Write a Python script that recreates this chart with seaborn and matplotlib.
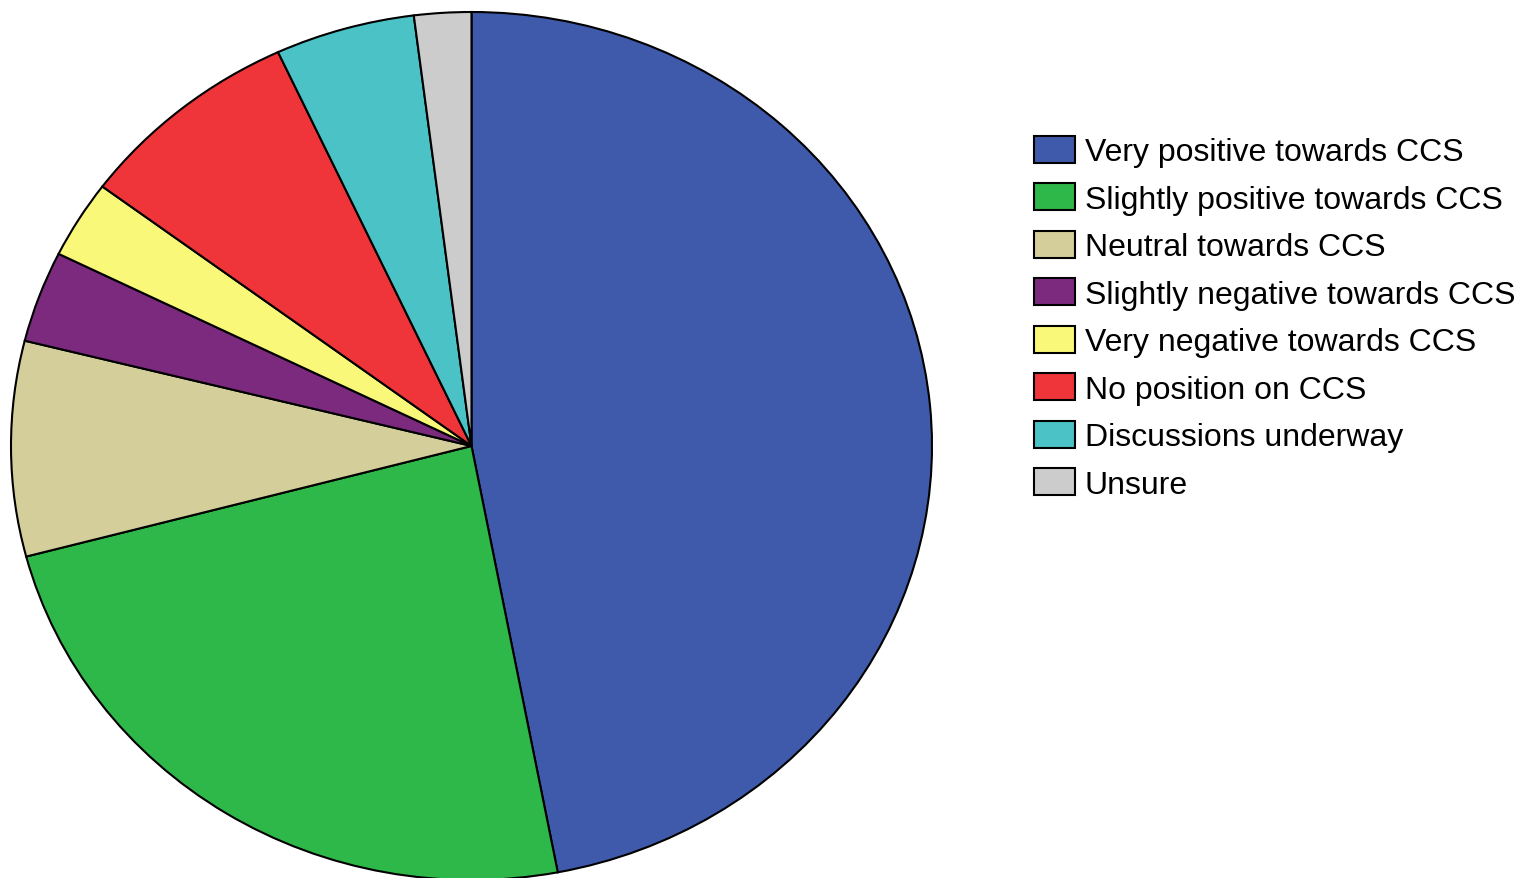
import numpy as np
import pandas as pd
import matplotlib.pyplot as plt
import seaborn as sns

sns.set_theme(style='white')
plt.rcParams['font.family'] = ['Liberation Sans', 'DejaVu Sans']
plt.rcParams['text.color'] = 'black'

# Position on CCS (share of respondents, %)
labels = ['Very positive towards CCS', 'Slightly positive towards CCS',
          'Neutral towards CCS', 'Slightly negative towards CCS',
          'Very negative towards CCS', 'No position on CCS',
          'Discussions underway', 'Unsure']
shares = [47.0, 23.9, 8.0, 3.4, 2.9, 7.9, 4.9, 2.0]
colors = ['#3F5AAA', '#2EB84A', '#D4CE9A', '#7B2A7E',
          '#FAF878', '#F0353A', '#4AC2C6', '#CCCCCC']

df = pd.DataFrame({'position': labels, 'share': shares})

W, H = 1517, 879
fig = plt.figure(figsize=(W / 100, H / 100), dpi=100)
# pie box: x 11..932, y 13..881 (pixels from top)
ax = fig.add_axes([11 / W, (H - 881) / H, 921 / W, 868 / H])

wedges, _ = ax.pie(df['share'], colors=colors, startangle=90, counterclock=False,
                   wedgeprops={'edgecolor': 'black', 'linewidth': 1.5})
for w in wedges:
    w.set_clip_on(False)
ax.set_aspect('auto')
ax.set_xlim(-1, 1)
ax.set_ylim(-1, 1)
ax.axis('off')

leg = fig.legend(wedges, df['position'], loc='upper left',
                 bbox_to_anchor=(1034 / W, 1 - 137 / H), frameon=False,
                 fontsize=23, handlelength=1.29, handleheight=0.92,
                 handletextpad=0.3, labelspacing=0.5, borderpad=0,
                 borderaxespad=0)
for t in leg.get_texts():
    t.set_color('black')

fig.savefig('out.png', dpi=100)
